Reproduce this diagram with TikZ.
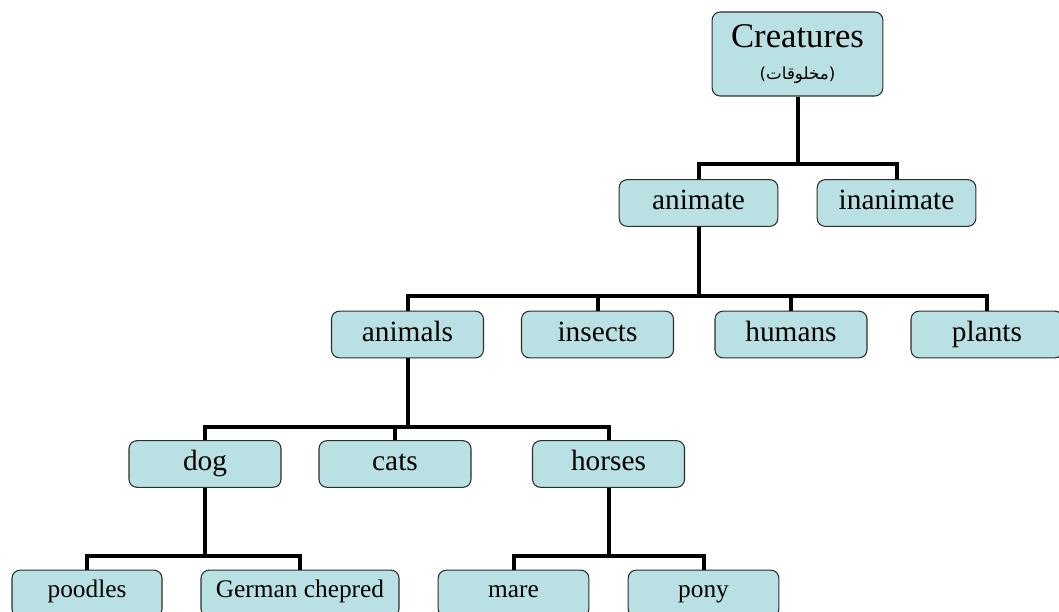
\documentclass[tikz,border=0pt]{standalone}
\usepackage{fontspec}
\setmainfont{Liberation Serif}
\newfontfamily\arabicfont[Script=Arabic]{DejaVu Sans}
\newfontfamily\parenfont{DejaVu Sans}
\TeXXeTstate=1
\usepackage{tikz}
\usetikzlibrary{positioning}
\usepackage{xcolor}
\definecolor{boxfill}{RGB}{185,224,227}
\definecolor{boxline}{RGB}{45,45,45}

\begin{document}
\begin{tikzpicture}[
    x=0.75pt,y=-0.75pt,
    item/.style={rectangle,rounded corners=6pt,draw=boxline,line width=0.8pt,fill=boxfill,
      minimum width=114pt,minimum height=35pt,inner sep=0,text height=15pt,text depth=5pt,
      font=\fontsize{22}{24}\selectfont},
    leaf/.style={item,text height=12pt,text depth=6pt,font=\fontsize{19}{21}\selectfont},
    link/.style={line width=3pt},
  ]
    \useasboundingbox (0,0) rectangle (1059,611);
    % top
    \node[item,minimum width=128pt,minimum height=63pt,align=center,text height=,text depth=] (creatures) at (797.5,54)
      {{\fontsize{26}{28}\selectfont Creatures}\\[0pt]{\fontsize{12.5}{14}\selectfont\parenfont(\arabicfont\beginR مخلوقات\endR\parenfont)}};
    \node[item,minimum width=119pt] (animate) at (698.5,203) {animate};
    \node[item,minimum width=119pt] (inanimate) at (896.5,203) {inanimate};
    % second row
    \node[item] (animals) at (407.5,334.5) {animals};
    \node[item] (insects) at (597.5,334.5) {insects};
    \node[item] (humans) at (791,334.5) {humans};
    \node[item] (plants) at (987,334.5) {plants};
    % third row
    \node[item] (dog) at (205,464) {dog};
    \node[item] (cats) at (395,464) {cats};
    \node[item] (horses) at (608.5,464) {horses};
    % leaves
    \node[leaf,minimum width=112.5pt] (poodles) at (87,593.5) {poodles};
    \node[leaf,minimum width=148.5pt] (german) at (300,593.5) {German chepred};
    \node[leaf,minimum width=113pt] (mare) at (513.5,593.5) {mare};
    \node[leaf,minimum width=113pt] (pony) at (703.5,593.5) {pony};

    \coordinate (j0) at (797.5,164);
    \coordinate (j1) at (698.5,296);
    \coordinate (j2) at (407.5,427);
    \coordinate (j3) at (205,556);
    \coordinate (j4) at (608.5,556);

    \draw[link] (creatures) -- (j0);
    \draw[link] (animate) |- (j0) -| (inanimate);
    \draw[link] (animate) -- (j1);
    \draw[link] (animals) |- (j1) -| (plants);
    \foreach \n in {insects,humans}
      \draw[link] (\n) -- (\n |- j1);
    \draw[link] (animals) -- (j2);
    \draw[link] (dog) |- (j2) -| (horses);
    \draw[link] (cats) -- (cats |- j2);
    \draw[link] (dog) -- (j3);
    \draw[link] (poodles) |- (j3) -| (german);
    \draw[link] (horses) -- (j4);
    \draw[link] (mare) |- (j4) -| (pony);
  \end{tikzpicture}
\end{document}
